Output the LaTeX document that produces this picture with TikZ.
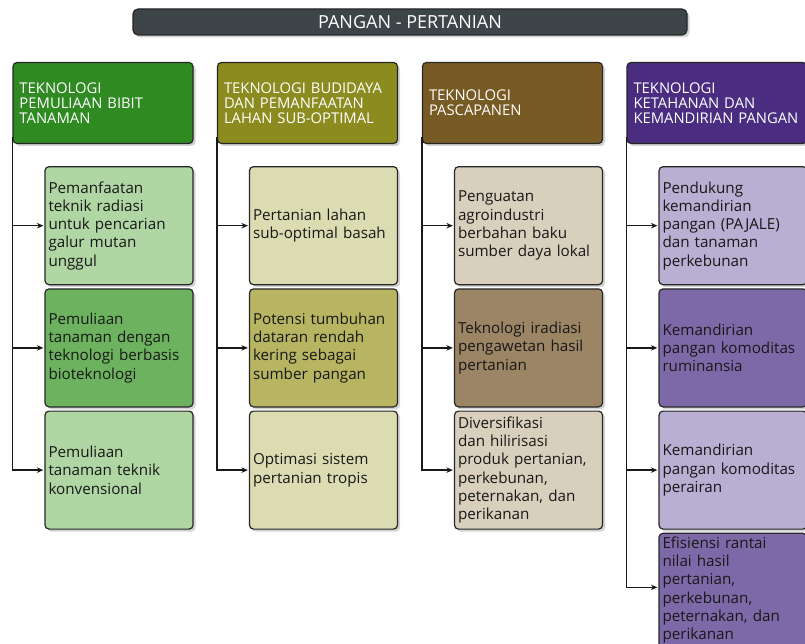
\documentclass[tikz,border=0pt]{standalone}
\usepackage{fontspec}
\setmainfont{Open Sans}
\usepackage{tikz}
\usetikzlibrary{arrows.meta,positioning,shadows}
\definecolor{cjudul}{RGB}{62,69,73}
\definecolor{cteks}{RGB}{24,24,24}
\definecolor{hijau}{RGB}{47,138,34}
\definecolor{hijaum}{RGB}{109,179,95}
\definecolor{hijaul}{RGB}{176,214,164}
\definecolor{zaitun}{RGB}{140,139,31}
\definecolor{zaitunm}{RGB}{183,181,98}
\definecolor{zaitunl}{RGB}{220,220,179}
\definecolor{coklat}{RGB}{120,90,37}
\definecolor{coklatm}{RGB}{156,133,101}
\definecolor{coklatl}{RGB}{217,207,189}
\definecolor{ungu}{RGB}{74,45,128}
\definecolor{ungum}{RGB}{125,105,168}
\definecolor{ungul}{RGB}{184,175,211}

\begin{document}
\begin{tikzpicture}[x=1pt, y=-1pt, >=Stealth,
  bayang/.style={drop shadow={shadow xshift=2.5pt,shadow yshift=-2.5pt,opacity=.35}},
  judul/.style={draw=black!85, line width=1.2pt, rounded corners=5pt, fill=cjudul, bayang,
    minimum width=554pt, minimum height=26pt, text=white, font=\fontsize{18}{20}\selectfont},
  kepala/.style={draw=black!85, line width=1.2pt, rounded corners=4pt, fill=#1, bayang,
    minimum width=180pt, minimum height=81pt, text width=167pt, inner xsep=6.5pt,
    align=left, text=white, font=\fontsize{14.8}{15}\selectfont},
  isi/.style={draw=black!85, line width=1.2pt, rounded corners=4pt, fill=#1, bayang,
    minimum width=148pt, minimum height=118pt, text width=141pt, inner xsep=3.5pt,
    align=left, text=cteks, font=\fontsize{15.2}{18.3}\selectfont},
  garis/.style={draw=black!90, line width=1.5pt},
  panah/.style={garis, -{Stealth[length=6.5pt,width=5.5pt]}, shorten >=1pt},
  node distance=3pt]
\useasboundingbox (0,0) rectangle (805,644);

\node[judul] (judul) at (410,22) {PANGAN - PERTANIAN};

\node[kepala=hijau]  (k1) at (103,103) {TEKNOLOGI\\PEMULIAAN BIBIT\\TANAMAN};
\node[kepala=zaitun] (k2) at (307.5,103) {TEKNOLOGI BUDIDAYA\\DAN PEMANFAATAN\\LAHAN SUB-OPTIMAL};
\node[kepala=coklat] (k3) at (512.5,103) {TEKNOLOGI\\PASCAPANEN};
\node[kepala=ungu]   (k4) at (717,103) {TEKNOLOGI\\KETAHANAN DAN\\KEMANDIRIAN PANGAN};

\node[isi=hijaul, anchor=north east] (b11) at ([yshift=-22pt]k1.south east)
  {Pemanfaatan\\teknik radiasi\\untuk pencarian\\galur mutan\\unggul};
\node[isi=hijaum, below=of b11] (b12) {Pemuliaan\\tanaman dengan\\teknologi berbasis\\bioteknologi};
\node[isi=hijaul, below=of b12] (b13) {Pemuliaan\\tanaman teknik\\konvensional};

\node[isi=zaitunl, anchor=north east] (b21) at ([yshift=-22pt]k2.south east)
  {Pertanian lahan\\sub-optimal basah};
\node[isi=zaitunm, below=of b21] (b22) {Potensi tumbuhan\\dataran rendah\\kering sebagai\\sumber pangan};
\node[isi=zaitunl, below=of b22] (b23) {Optimasi sistem\\pertanian tropis};

\node[isi=coklatl, anchor=north east] (b31) at ([yshift=-22pt]k3.south east)
  {Penguatan\\agroindustri\\berbahan baku\\sumber daya lokal};
\node[isi=coklatm, below=of b31] (b32) {Teknologi iradiasi\\pengawetan hasil\\pertanian};
\node[isi=coklatl, below=of b32] (b33) {Diversifikasi\\dan hilirisasi\\produk pertanian,\\perkebunan,\\peternakan, dan\\perikanan};

\node[isi=ungul, anchor=north east] (b41) at ([yshift=-22pt]k4.south east)
  {Pendukung\\kemandirian\\pangan (PAJALE)\\dan tanaman\\perkebunan};
\node[isi=ungum, below=of b41] (b42) {Kemandirian\\pangan komoditas\\ruminansia};
\node[isi=ungul, below=of b42] (b43) {Kemandirian\\pangan komoditas\\perairan};
\node[isi=ungum, below=of b43] (b44) {Efisiensi rantai\\nilai hasil\\pertanian,\\perkebunan,\\peternakan, dan\\perikanan\\[-2pt]\mbox{}};

\draw[panah] ([yshift=7pt]k1.south west) |- (b13.west);
\draw[panah] ([yshift=7pt]k2.south west) |- (b23.west);
\draw[panah] ([yshift=7pt]k3.south west) |- (b33.west);
\draw[panah] ([yshift=7pt]k4.south west) |- ([yshift=9pt]b44.west);
\foreach \k/\b in {1/1,1/2,2/1,2/2,3/1,3/2,4/1,4/2,4/3}
  {\draw[panah] (k\k.south west |- b\k\b.west) -- (b\k\b.west);}
\end{tikzpicture}
\end{document}
